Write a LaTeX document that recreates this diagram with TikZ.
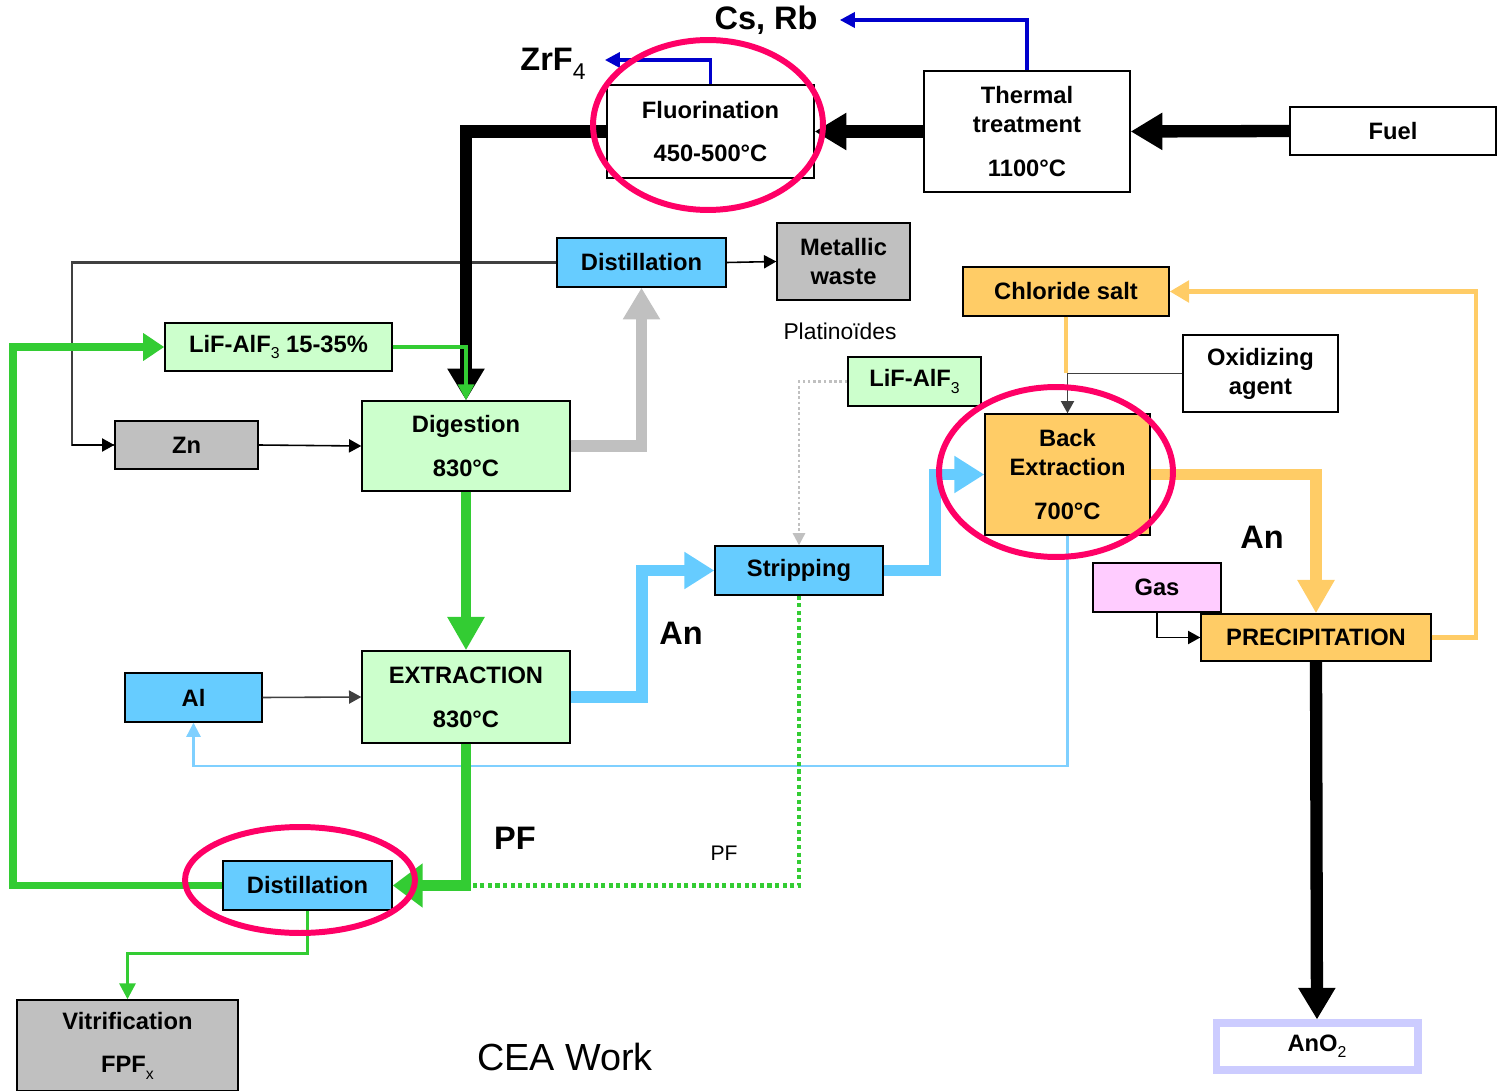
\documentclass[tikz,border=0pt]{standalone}
\usepackage{fontspec}
\setmainfont{Liberation Sans}
\usetikzlibrary{arrows.meta}

\newcommand\pedice[2][9]{\raisebox{-0.5ex}{\fontsize{#1}{#1}\selectfont\mdseries #2}}
\newcommand\gradi{°C}

\begin{document}
\begin{tikzpicture}[x=0.02cm, y=-0.02cm,
  taglia/.style 2 args={minimum width=#1cm, minimum height=#2cm},
  box/.style={draw, line width=0.8pt, align=center, inner sep=0pt,
    font=\fontsize{13.5}{16.5}\selectfont\bfseries},
  bianco/.style={box, fill=white},
  verdino/.style={box, fill=colVerdino},
  blu/.style={box, fill=colBlu},
  grigio/.style={box, fill=colGrigio},
  arancio/.style={box, fill=colArancio},
  rosa/.style={box, fill=colRosa},
  etichetta/.style={inner sep=0pt, font=\fontsize{18.5}{20}\selectfont\bfseries},
  nota/.style={inner sep=0pt, font=\fontsize{13}{15}\selectfont},
  freccia/.style={line width=0.9pt, -{Triangle[length=7pt,width=7.5pt]}},
  linea grigia/.style={draw=darkgray, line width=1.2pt},
  nero spesso/.style={line width=7pt, -{Triangle[length=18pt,width=20pt]}},
  blu scuro/.style={draw=colBluScuro, line width=2pt, -{Triangle[length=8.5pt,width=8.5pt]}},
  azzurro spesso/.style={draw=colBlu, line width=6.8pt, -{Triangle[length=17pt,width=20pt]}},
  azzurro sottile/.style={draw=colAzzurro, line width=1.2pt, -{Triangle[length=8pt,width=8pt]}},
  grigio spesso/.style={draw=colGrigio, line width=6.8pt, -{Triangle[length=18pt,width=20pt]}},
  verde spesso/.style={draw=colVerde, line width=5.7pt, -{Triangle[length=19pt,width=20pt]}},
  verde medio/.style={draw=colVerde, line width=4pt, -{Triangle[length=12pt,width=15pt]}},
  verde sottile/.style={draw=colVerde, line width=1.8pt, -{Triangle[length=9pt,width=9pt]}},
  punti verdi/.style={draw=colVerde, line width=2.3pt, dash pattern=on 2.3pt off 2pt},
  punti grigi/.style={draw=colGrigio, line width=1.3pt, dash pattern=on 1.5pt off 1.5pt,
    -{Triangle[length=7pt,width=7pt]}},
  arancio spesso/.style={draw=colArancio, line width=6.8pt, -{Triangle[length=19pt,width=20pt]}},
  arancio medio/.style={draw=colArancio, line width=2.8pt, -{Triangle[length=11pt,width=12pt]}},
  cerchio/.style={draw=colCerchio, line width=3.4pt}
]

% Colori
\definecolor{colVerdino}{HTML}{CCFFCC}
\definecolor{colBlu}{HTML}{66CCFF}
\definecolor{colAzzurro}{HTML}{7FD0FF}
\definecolor{colGrigio}{HTML}{C0C0C0}
\definecolor{colArancio}{HTML}{FFCC66}
\definecolor{colRosa}{HTML}{FFCCFF}
\definecolor{colLavanda}{HTML}{CCCCFF}
\definecolor{colVerde}{HTML}{33CC33}
\definecolor{colBluScuro}{HTML}{0000CC}
\definecolor{colCerchio}{HTML}{FF0066}

\useasboundingbox (0,0) rectangle (1502,1091);

% Blocchi
\node[bianco, taglia={4.14}{1.86}] (flu) at (710.5,131.5) {Fluorination\\[8.5pt]450-500\gradi};
\node[bianco, taglia={4.12}{2.42}] (therm) at (1027,131.5) {Thermal\\treatment\\[8.5pt]1100\gradi};
\node[bianco, taglia={4.12}{0.96}] (fuel) at (1393,131) {Fuel};
\node[blu, taglia={3.38}{0.98}] (dist1) at (641.5,262.5) {Distillation};
\node[grigio, taglia={2.66}{1.54}] (metal) at (843.5,261.5) {Metallic\\waste};
\node[arancio, taglia={4.12}{0.98}] (chlor) at (1066,291.5) {Chloride salt};
\node[bianco, taglia={3.10}{1.54}] (oxid) at (1260.5,373.5) {Oxidizing\\agent};
\node[verdino, taglia={4.54}{0.96}] (lif1) at (278.5,347) {LiF-AlF\pedice{3} 15-35\%};
\node[verdino, taglia={2.66}{0.98}] (lif2) at (914.5,381.5) {LiF-AlF\pedice{3}};
\node[grigio, taglia={2.86}{0.96}] (zn) at (186.5,445) {Zn};
\node[verdino, taglia={4.16}{1.80}] (dig) at (466,446) {Digestion\\[8.5pt]830\gradi};
\node[arancio, taglia={3.30}{2.42}] (back) at (1067.5,474.5) {Back\\Extraction\\[8.5pt]700\gradi};
\node[blu, taglia={3.36}{0.98}] (strip) at (799,570.5) {Stripping};
\node[rosa, taglia={2.56}{0.98}] (gas) at (1157,587.5) {Gas};
\node[arancio, taglia={4.60}{0.94}] (prec) at (1316,637.5) {PRECIPITATION};
\node[blu, taglia={2.74}{0.98}] (al) at (193.5,697.5) {Al};
\node[verdino, taglia={4.16}{1.84}] (ext) at (466,697) {EXTRACTION\\[8.5pt]830\gradi};
\node[blu, taglia={3.38}{0.98}] (dist2) at (307.5,885.5) {Distillation};
\node[grigio, taglia={4.42}{1.82}] (vitr) at (127.5,1045.5) {Vitrification\\[8.5pt]FPF\pedice{x}};
\node[box, draw=colLavanda, line width=4pt, fill=white, taglia={4.04}{0.94}] (ano2) at (1317,1046.5) {AnO\pedice{2}};

% Etichette
\node[etichetta] (csrb) at (766,20) {Cs, Rb};
\node[etichetta] (zrf) at (553,64) {ZrF\pedice[13]{4}};
\node[etichetta] (an1) at (1262,537) {An};
\node[etichetta] (an2) at (681,633) {An};
\node[etichetta] (pf1) at (515,838) {PF};
\node[nota, font=\fontsize{12}{14}\selectfont] (pf2) at (724,853) {PF};
\node[nota] (plat) at (840,331) {Platinoïdes};
\node[nota, font=\fontsize{21.5}{24}\selectfont] (cea) at (565,1057) {CEA Work};

% Punti d'angolo
\coordinate (sin1) at (72,262.5);
\coordinate (az1) at (642,697);
\coordinate (az2) at (935,570.5);
\coordinate (vs) at (13,885.5);
\coordinate (ar) at (1476,637.5);

% Linee sottili
\draw[linea grigia] (dist1.west) -- (sin1) |- (zn.west);
\draw[freccia] (sin1 |- zn.west) -- (zn.west);
\draw[freccia] (dist1.east) -- (metal.west);
\draw[freccia] (zn.east) -- (dig.west);
\draw[freccia, draw=darkgray] (al.east) -- (ext.west);
\draw[azzurro sottile] (back.south) -- ++(0,230) -| (al.south);
\draw[verde sottile] (dist2.south) -- ++(0,43) -| (vitr.north);
\draw[punti grigi] (lif2.west) -| (strip.north);
\draw[punti verdi] (strip.south) |- (ext.south |- dist2.east);

% Flusso principale
\draw[blu scuro] (therm.north) |- ([xshift=0.44cm]csrb.east);
\draw[blu scuro] (flu.north) |- ([xshift=0.38cm,yshift=0.08cm]zrf.east);
\draw[nero spesso] (fuel.west) -- (therm.east);
\draw[nero spesso] (therm.west) -- (flu.east);
\draw[nero spesso] (flu.west) -| (dig.north);
\draw[verde sottile] (lif1.east) -| (dig.north);
\draw[grigio spesso] (dig.east) -| (dist1.south);
\draw[verde spesso] (dig.south) -- (ext.north);
\draw[azzurro spesso] (ext.east) -- (az1) |- (strip.west);
\draw[azzurro spesso] (strip.east) -- (az2) |- (back.west);
\draw[verde spesso, -{Triangle[length=17pt,width=24pt]}] (ext.south) |- (dist2.east);
\draw[verde medio] (dist2.west) -- (vs) |- (lif1.west);

% Ramo cloruri
\draw[draw=colArancio, line width=2.8pt] (chlor.south) -- (chlor.south |- oxid.west);
\draw[freccia, draw=darkgray] (oxid.west) -| (back.north);
\draw[arancio spesso] (back.east) -| (prec.north);
\draw[arancio medio] (prec.east) -- (ar) |- (chlor.east);
\draw[freccia] (gas.south) |- (prec.west);
\draw[nero spesso] (prec.south) -- (ano2.north);

% Cerchi rossi
\draw[cerchio] (708,125) ellipse [x radius=2.3cm, y radius=1.7cm];
\draw[cerchio] (1056,472) ellipse [x radius=2.34cm, y radius=1.7cm];
\draw[cerchio] (300,880) ellipse [x radius=2.3cm, y radius=1.06cm];

\end{tikzpicture}
\end{document}
